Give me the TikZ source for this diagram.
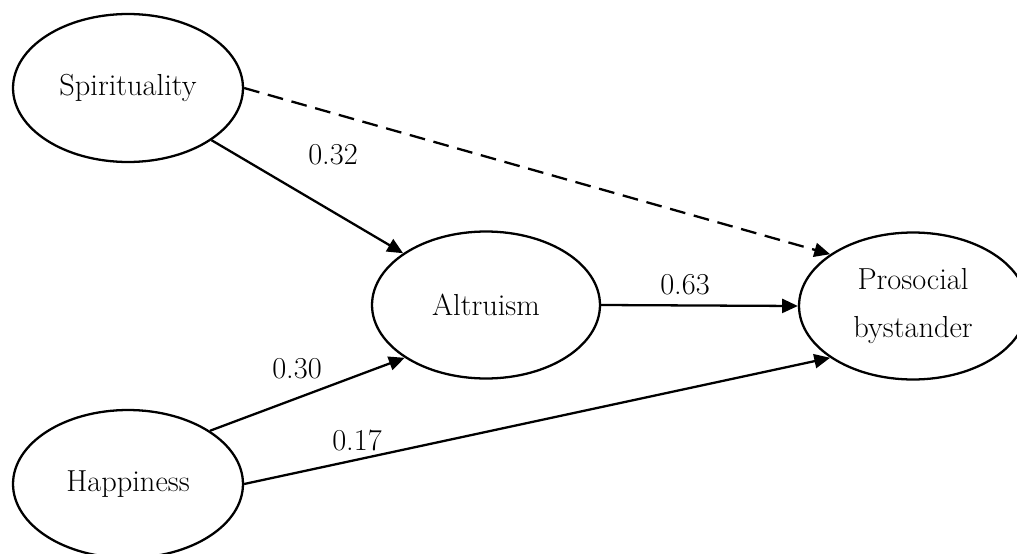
\documentclass[tikz,border=0pt]{standalone}
\usetikzlibrary{arrows.meta,positioning,shapes.geometric}
\begin{document}
\begin{tikzpicture}[x=0.02cm,y=-0.02cm,
  semvar/.style={draw,ellipse,line width=1.3pt,minimum width=4.6cm,minimum height=2.96cm,
    inner sep=0pt,align=center,font=\fontsize{17.3}{27}\selectfont},
  semarr/.style={-{Triangle[length=9pt,width=8pt]},line width=1.3pt},
  semlbl/.style={font=\fontsize{17.3}{20}\selectfont}
]
  \useasboundingbox (0,0) rectangle (1017,554);
  % Latent variables
  \node[semvar] (spir) at (128,88) {Spirituality};
  \node[semvar] (hap) at (128,484) {Happiness};
  \node[semvar,minimum width=4.56cm,minimum height=2.94cm] (alt) at (486,305) {Altruism};
  \node[semvar,minimum width=4.56cm,minimum height=2.94cm] (pro) at (913,306) {Prosocial\\bystander};
  % Paths
  \draw[semarr] (spir.328) -- (alt.148);
  \draw[semarr] (hap.33) -- (alt.213);
  \draw[semarr] (alt.east) -- (pro.west);
  \draw[semarr,dash pattern=on 9pt off 5pt] (spir.east) -- (pro.148);
  \draw[semarr] (hap.east) -- (pro.212);
  % Path coefficients
  \node[semlbl] (c32) at (333,155) {0.32};
  \node[semlbl] (c63) at (685,285) {0.63};
  \node[semlbl] (c30) at (297,369) {0.30};
  \node[semlbl] (c17) at (357,440) {0.17};
\end{tikzpicture}
\end{document}
